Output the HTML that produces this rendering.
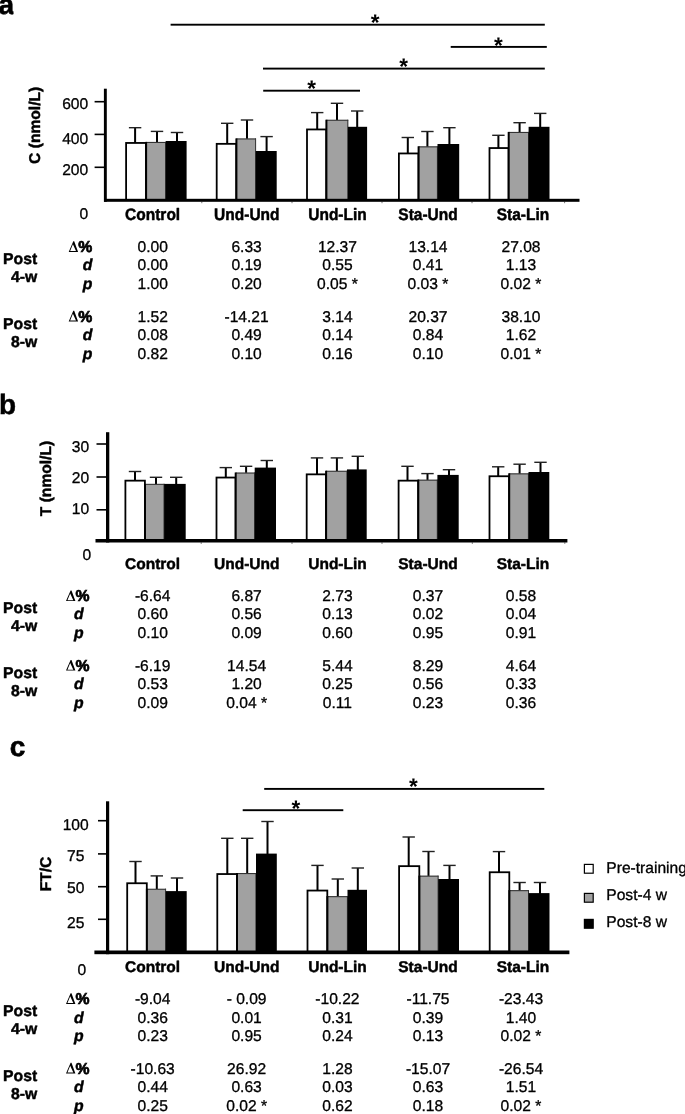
<!DOCTYPE html>
<html><head><meta charset="utf-8"><title>Figure</title>
<style>html,body{margin:0;padding:0;background:#fff;}body{width:685px;height:1114px;overflow:hidden;font-family:"Liberation Sans",sans-serif;}svg{display:block;filter:grayscale(1);}</style></head>
<body>
<svg width="685" height="1114" viewBox="0 0 685 1114" font-family='"Liberation Sans", sans-serif' fill="#000" text-rendering="geometricPrecision">
<rect width="685" height="1114" fill="#fff"/>
<rect x="201.30" y="201.60" width="1" height="1.6" fill="#777"/>
<rect x="291.50" y="201.60" width="1" height="1.6" fill="#777"/>
<rect x="381.50" y="201.60" width="1" height="1.6" fill="#777"/>
<rect x="471.50" y="201.60" width="1" height="1.6" fill="#777"/>
<rect x="564.10" y="201.60" width="1" height="1.6" fill="#777"/>
<rect x="134.10" y="127.70" width="2" height="15.50" fill="#000"/>
<rect x="128.90" y="127.00" width="12.4" height="1.4" fill="#222"/>
<rect x="126.10" y="142.95" width="19.90" height="57.10" fill="#fff" stroke="#000" stroke-width="1.8"/>
<rect x="156.00" y="131.40" width="2" height="11.80" fill="#000"/>
<rect x="150.80" y="130.70" width="12.4" height="1.4" fill="#222"/>
<rect x="146.00" y="142.20" width="20.00" height="57.10" fill="#a1a1a1"/>
<rect x="146.00" y="141.90" width="20.00" height="1.1" fill="#333"/>
<rect x="145.10" y="141.90" width="2" height="57.40" fill="#000"/>
<rect x="165.10" y="141.90" width="1.0" height="57.40" fill="#333"/>
<rect x="176.00" y="132.50" width="2" height="9.50" fill="#000"/>
<rect x="170.80" y="131.80" width="12.4" height="1.4" fill="#222"/>
<rect x="165.70" y="141.00" width="20.90" height="58.30" fill="#000"/>
<rect x="226.20" y="123.30" width="2" height="20.80" fill="#000"/>
<rect x="221.00" y="122.60" width="12.4" height="1.4" fill="#222"/>
<rect x="216.70" y="143.85" width="19.60" height="56.20" fill="#fff" stroke="#000" stroke-width="1.8"/>
<rect x="246.00" y="120.00" width="2" height="19.70" fill="#000"/>
<rect x="240.80" y="119.30" width="12.4" height="1.4" fill="#222"/>
<rect x="236.30" y="138.70" width="19.70" height="60.60" fill="#a1a1a1"/>
<rect x="236.30" y="138.40" width="19.70" height="1.1" fill="#333"/>
<rect x="235.40" y="138.40" width="2" height="60.90" fill="#000"/>
<rect x="255.10" y="138.40" width="1.0" height="60.90" fill="#333"/>
<rect x="265.60" y="136.60" width="2" height="15.40" fill="#000"/>
<rect x="260.40" y="135.90" width="12.4" height="1.4" fill="#222"/>
<rect x="255.70" y="151.00" width="21.00" height="48.30" fill="#000"/>
<rect x="316.20" y="112.60" width="2" height="17.10" fill="#000"/>
<rect x="311.00" y="111.90" width="12.4" height="1.4" fill="#222"/>
<rect x="307.00" y="129.45" width="19.30" height="70.60" fill="#fff" stroke="#000" stroke-width="1.8"/>
<rect x="336.00" y="103.30" width="2" height="17.70" fill="#000"/>
<rect x="330.80" y="102.60" width="12.4" height="1.4" fill="#222"/>
<rect x="326.30" y="120.00" width="21.90" height="79.30" fill="#a1a1a1"/>
<rect x="326.30" y="119.70" width="21.90" height="1.1" fill="#333"/>
<rect x="325.40" y="119.70" width="2" height="79.60" fill="#000"/>
<rect x="347.30" y="119.70" width="1.0" height="79.60" fill="#333"/>
<rect x="356.20" y="111.00" width="2" height="16.80" fill="#000"/>
<rect x="351.00" y="110.30" width="12.4" height="1.4" fill="#222"/>
<rect x="347.90" y="126.80" width="19.20" height="72.50" fill="#000"/>
<rect x="406.80" y="137.50" width="2" height="16.20" fill="#000"/>
<rect x="401.60" y="136.80" width="12.4" height="1.4" fill="#222"/>
<rect x="398.90" y="153.45" width="19.60" height="46.60" fill="#fff" stroke="#000" stroke-width="1.8"/>
<rect x="426.40" y="131.50" width="2" height="16.10" fill="#000"/>
<rect x="421.20" y="130.80" width="12.4" height="1.4" fill="#222"/>
<rect x="418.50" y="146.60" width="19.30" height="52.70" fill="#a1a1a1"/>
<rect x="418.50" y="146.30" width="19.30" height="1.1" fill="#333"/>
<rect x="417.60" y="146.30" width="2" height="53.00" fill="#000"/>
<rect x="436.90" y="146.30" width="1.0" height="53.00" fill="#333"/>
<rect x="448.40" y="127.70" width="2" height="17.30" fill="#000"/>
<rect x="443.20" y="127.00" width="12.4" height="1.4" fill="#222"/>
<rect x="437.50" y="144.00" width="21.70" height="55.30" fill="#000"/>
<rect x="497.40" y="135.30" width="2" height="13.00" fill="#000"/>
<rect x="492.20" y="134.60" width="12.4" height="1.4" fill="#222"/>
<rect x="489.50" y="148.05" width="19.10" height="52.00" fill="#fff" stroke="#000" stroke-width="1.8"/>
<rect x="518.60" y="122.70" width="2" height="10.50" fill="#000"/>
<rect x="513.40" y="122.00" width="12.4" height="1.4" fill="#222"/>
<rect x="508.60" y="132.20" width="20.30" height="67.10" fill="#a1a1a1"/>
<rect x="508.60" y="131.90" width="20.30" height="1.1" fill="#333"/>
<rect x="507.70" y="131.90" width="2" height="67.40" fill="#000"/>
<rect x="528.00" y="131.90" width="1.0" height="67.40" fill="#333"/>
<rect x="539.20" y="113.40" width="2" height="14.40" fill="#000"/>
<rect x="534.00" y="112.70" width="12.4" height="1.4" fill="#222"/>
<rect x="528.60" y="126.80" width="20.90" height="72.50" fill="#000"/>
<rect x="103.90" y="88.70" width="2.9" height="113.10" fill="#000"/>
<rect x="104.00" y="198.80" width="475.50" height="3" fill="#000"/>
<rect x="94.60" y="100.90" width="9.80" height="1.6" fill="#000"/>
<text x="88.20" y="109.30" font-size="15.6" font-weight="normal" font-style="normal" text-anchor="end"  stroke="#000" stroke-width="0.32" stroke-linejoin="round">600</text>
<rect x="94.60" y="133.60" width="9.80" height="1.6" fill="#000"/>
<text x="88.20" y="143.80" font-size="15.6" font-weight="normal" font-style="normal" text-anchor="end"  stroke="#000" stroke-width="0.32" stroke-linejoin="round">400</text>
<rect x="94.60" y="166.50" width="9.80" height="1.6" fill="#000"/>
<text x="88.20" y="174.90" font-size="15.6" font-weight="normal" font-style="normal" text-anchor="end"  stroke="#000" stroke-width="0.32" stroke-linejoin="round">200</text>
<text x="88.20" y="218.80" font-size="15.6" font-weight="normal" font-style="normal" text-anchor="end"  stroke="#000" stroke-width="0.32" stroke-linejoin="round">0</text>
<text transform="translate(39.60,163.90) rotate(-90)" font-size="15.6" font-weight="bold" stroke="#000" stroke-width="0.45" stroke-linejoin="round">C (nmol/L)</text>
<text transform="translate(152.60,219.60) scale(1,1.07)" font-size="15.5" font-weight="bold" text-anchor="middle" stroke="#000" stroke-width="0.45" stroke-linejoin="round">Control</text>
<text transform="translate(246.80,219.60) scale(1,1.07)" font-size="15.5" font-weight="bold" text-anchor="middle" stroke="#000" stroke-width="0.45" stroke-linejoin="round">Und-Und</text>
<text transform="translate(337.50,219.60) scale(1,1.07)" font-size="15.5" font-weight="bold" text-anchor="middle" stroke="#000" stroke-width="0.45" stroke-linejoin="round">Und-Lin</text>
<text transform="translate(428.00,219.60) scale(1,1.07)" font-size="15.5" font-weight="bold" text-anchor="middle" stroke="#000" stroke-width="0.45" stroke-linejoin="round">Sta-Und</text>
<text transform="translate(523.00,219.60) scale(1,1.07)" font-size="15.5" font-weight="bold" text-anchor="middle" stroke="#000" stroke-width="0.45" stroke-linejoin="round">Sta-Lin</text>
<rect x="200.70" y="542.30" width="1" height="1.6" fill="#777"/>
<rect x="291.50" y="542.30" width="1" height="1.6" fill="#777"/>
<rect x="381.50" y="542.30" width="1" height="1.6" fill="#777"/>
<rect x="471.80" y="542.30" width="1" height="1.6" fill="#777"/>
<rect x="564.30" y="542.30" width="1" height="1.6" fill="#777"/>
<rect x="134.00" y="471.50" width="2" height="9.40" fill="#000"/>
<rect x="128.80" y="470.80" width="12.4" height="1.4" fill="#222"/>
<rect x="125.40" y="480.65" width="19.50" height="59.60" fill="#fff" stroke="#000" stroke-width="1.8"/>
<rect x="155.00" y="477.30" width="2" height="7.80" fill="#000"/>
<rect x="149.80" y="476.60" width="12.4" height="1.4" fill="#222"/>
<rect x="144.90" y="484.10" width="19.50" height="55.40" fill="#a1a1a1"/>
<rect x="144.90" y="483.80" width="19.50" height="1.1" fill="#333"/>
<rect x="144.00" y="483.80" width="2" height="55.70" fill="#000"/>
<rect x="163.50" y="483.80" width="1.0" height="55.70" fill="#333"/>
<rect x="175.20" y="477.30" width="2" height="7.60" fill="#000"/>
<rect x="170.00" y="476.60" width="12.4" height="1.4" fill="#222"/>
<rect x="164.10" y="483.90" width="21.60" height="55.60" fill="#000"/>
<rect x="224.80" y="467.60" width="2" height="10.20" fill="#000"/>
<rect x="219.60" y="466.90" width="12.4" height="1.4" fill="#222"/>
<rect x="216.50" y="477.55" width="19.10" height="62.70" fill="#fff" stroke="#000" stroke-width="1.8"/>
<rect x="245.10" y="466.30" width="2" height="7.50" fill="#000"/>
<rect x="239.90" y="465.60" width="12.4" height="1.4" fill="#222"/>
<rect x="235.60" y="472.80" width="19.40" height="66.70" fill="#a1a1a1"/>
<rect x="235.60" y="472.50" width="19.40" height="1.1" fill="#333"/>
<rect x="234.70" y="472.50" width="2" height="67.00" fill="#000"/>
<rect x="254.10" y="472.50" width="1.0" height="67.00" fill="#333"/>
<rect x="265.80" y="460.50" width="2" height="8.10" fill="#000"/>
<rect x="260.60" y="459.80" width="12.4" height="1.4" fill="#222"/>
<rect x="254.70" y="467.60" width="21.30" height="71.90" fill="#000"/>
<rect x="316.00" y="457.90" width="2" height="16.70" fill="#000"/>
<rect x="310.80" y="457.20" width="12.4" height="1.4" fill="#222"/>
<rect x="306.70" y="474.35" width="19.30" height="65.90" fill="#fff" stroke="#000" stroke-width="1.8"/>
<rect x="335.90" y="457.90" width="2" height="14.10" fill="#000"/>
<rect x="330.70" y="457.20" width="12.4" height="1.4" fill="#222"/>
<rect x="326.00" y="471.00" width="21.30" height="68.50" fill="#a1a1a1"/>
<rect x="326.00" y="470.70" width="21.30" height="1.1" fill="#333"/>
<rect x="325.10" y="470.70" width="2" height="68.80" fill="#000"/>
<rect x="346.40" y="470.70" width="1.0" height="68.80" fill="#333"/>
<rect x="356.80" y="456.30" width="2" height="14.10" fill="#000"/>
<rect x="351.60" y="455.60" width="12.4" height="1.4" fill="#222"/>
<rect x="347.00" y="469.40" width="19.70" height="70.10" fill="#000"/>
<rect x="406.50" y="466.30" width="2" height="14.60" fill="#000"/>
<rect x="401.30" y="465.60" width="12.4" height="1.4" fill="#222"/>
<rect x="398.60" y="480.65" width="19.60" height="59.60" fill="#fff" stroke="#000" stroke-width="1.8"/>
<rect x="426.50" y="473.60" width="2" height="7.30" fill="#000"/>
<rect x="421.30" y="472.90" width="12.4" height="1.4" fill="#222"/>
<rect x="418.20" y="479.90" width="19.50" height="59.60" fill="#a1a1a1"/>
<rect x="418.20" y="479.60" width="19.50" height="1.1" fill="#333"/>
<rect x="417.30" y="479.60" width="2" height="59.90" fill="#000"/>
<rect x="436.80" y="479.60" width="1.0" height="59.90" fill="#333"/>
<rect x="448.00" y="469.70" width="2" height="6.20" fill="#000"/>
<rect x="442.80" y="469.00" width="12.4" height="1.4" fill="#222"/>
<rect x="437.40" y="474.90" width="21.30" height="64.60" fill="#000"/>
<rect x="497.20" y="466.80" width="2" height="9.70" fill="#000"/>
<rect x="492.00" y="466.10" width="12.4" height="1.4" fill="#222"/>
<rect x="489.50" y="476.25" width="19.60" height="64.00" fill="#fff" stroke="#000" stroke-width="1.8"/>
<rect x="518.60" y="464.20" width="2" height="10.40" fill="#000"/>
<rect x="513.40" y="463.50" width="12.4" height="1.4" fill="#222"/>
<rect x="509.10" y="473.60" width="19.70" height="65.90" fill="#a1a1a1"/>
<rect x="509.10" y="473.30" width="19.70" height="1.1" fill="#333"/>
<rect x="508.20" y="473.30" width="2" height="66.20" fill="#000"/>
<rect x="527.90" y="473.30" width="1.0" height="66.20" fill="#333"/>
<rect x="539.50" y="462.30" width="2" height="10.70" fill="#000"/>
<rect x="534.30" y="461.60" width="12.4" height="1.4" fill="#222"/>
<rect x="528.50" y="472.00" width="20.80" height="67.50" fill="#000"/>
<rect x="106.00" y="432.20" width="3.3" height="110.30" fill="#000"/>
<rect x="95.50" y="539.00" width="471.90" height="3.5" fill="#000"/>
<rect x="96.50" y="443.20" width="10.00" height="1.6" fill="#000"/>
<text x="89.20" y="451.90" font-size="15.6" font-weight="normal" font-style="normal" text-anchor="end"  stroke="#000" stroke-width="0.32" stroke-linejoin="round">30</text>
<rect x="96.50" y="476.20" width="10.00" height="1.6" fill="#000"/>
<text x="89.20" y="482.90" font-size="15.6" font-weight="normal" font-style="normal" text-anchor="end"  stroke="#000" stroke-width="0.32" stroke-linejoin="round">20</text>
<rect x="96.50" y="509.00" width="10.00" height="1.6" fill="#000"/>
<text x="89.20" y="513.50" font-size="15.6" font-weight="normal" font-style="normal" text-anchor="end"  stroke="#000" stroke-width="0.32" stroke-linejoin="round">10</text>
<text x="91.20" y="560.20" font-size="15.6" font-weight="normal" font-style="normal" text-anchor="end"  stroke="#000" stroke-width="0.32" stroke-linejoin="round">0</text>
<text transform="translate(50.50,516.20) rotate(-90)" font-size="15.6" font-weight="bold" stroke="#000" stroke-width="0.45" stroke-linejoin="round">T (nmol/L)</text>
<text x="152.60" y="568.70" font-size="15.5" font-weight="bold" font-style="normal" text-anchor="middle"  stroke="#000" stroke-width="0.45" stroke-linejoin="round">Control</text>
<text x="246.80" y="568.70" font-size="15.5" font-weight="bold" font-style="normal" text-anchor="middle"  stroke="#000" stroke-width="0.45" stroke-linejoin="round">Und-Und</text>
<text x="337.50" y="568.70" font-size="15.5" font-weight="bold" font-style="normal" text-anchor="middle"  stroke="#000" stroke-width="0.45" stroke-linejoin="round">Und-Lin</text>
<text x="428.00" y="568.70" font-size="15.5" font-weight="bold" font-style="normal" text-anchor="middle"  stroke="#000" stroke-width="0.45" stroke-linejoin="round">Sta-Und</text>
<text x="523.00" y="568.70" font-size="15.5" font-weight="bold" font-style="normal" text-anchor="middle"  stroke="#000" stroke-width="0.45" stroke-linejoin="round">Sta-Lin</text>
<rect x="134.50" y="861.50" width="2" height="22.00" fill="#000"/>
<rect x="129.30" y="860.80" width="12.4" height="1.4" fill="#222"/>
<rect x="127.20" y="883.25" width="19.60" height="68.50" fill="#fff" stroke="#000" stroke-width="1.8"/>
<rect x="155.80" y="875.90" width="2" height="14.10" fill="#000"/>
<rect x="150.60" y="875.20" width="12.4" height="1.4" fill="#222"/>
<rect x="146.80" y="889.00" width="19.20" height="62.00" fill="#a1a1a1"/>
<rect x="146.80" y="888.70" width="19.20" height="1.1" fill="#333"/>
<rect x="145.90" y="888.70" width="2" height="62.30" fill="#000"/>
<rect x="165.10" y="888.70" width="1.0" height="62.30" fill="#333"/>
<rect x="176.00" y="878.00" width="2" height="14.10" fill="#000"/>
<rect x="170.80" y="877.30" width="12.4" height="1.4" fill="#222"/>
<rect x="165.70" y="891.10" width="21.00" height="59.90" fill="#000"/>
<rect x="226.30" y="838.30" width="2" height="36.00" fill="#000"/>
<rect x="221.10" y="837.60" width="12.4" height="1.4" fill="#222"/>
<rect x="217.30" y="874.05" width="19.60" height="77.70" fill="#fff" stroke="#000" stroke-width="1.8"/>
<rect x="246.20" y="838.30" width="2" height="36.00" fill="#000"/>
<rect x="241.00" y="837.60" width="12.4" height="1.4" fill="#222"/>
<rect x="236.90" y="873.30" width="19.40" height="77.70" fill="#a1a1a1"/>
<rect x="236.90" y="873.00" width="19.40" height="1.1" fill="#333"/>
<rect x="236.00" y="873.00" width="2" height="78.00" fill="#000"/>
<rect x="255.40" y="873.00" width="1.0" height="78.00" fill="#333"/>
<rect x="266.50" y="821.50" width="2" height="33.10" fill="#000"/>
<rect x="261.30" y="820.80" width="12.4" height="1.4" fill="#222"/>
<rect x="256.00" y="853.60" width="20.80" height="97.40" fill="#000"/>
<rect x="316.50" y="865.40" width="2" height="25.40" fill="#000"/>
<rect x="311.30" y="864.70" width="12.4" height="1.4" fill="#222"/>
<rect x="307.50" y="890.55" width="19.80" height="61.20" fill="#fff" stroke="#000" stroke-width="1.8"/>
<rect x="336.80" y="879.00" width="2" height="18.40" fill="#000"/>
<rect x="331.60" y="878.30" width="12.4" height="1.4" fill="#222"/>
<rect x="327.30" y="896.40" width="20.50" height="54.60" fill="#a1a1a1"/>
<rect x="327.30" y="896.10" width="20.50" height="1.1" fill="#333"/>
<rect x="326.40" y="896.10" width="2" height="54.90" fill="#000"/>
<rect x="346.90" y="896.10" width="1.0" height="54.90" fill="#333"/>
<rect x="356.80" y="868.00" width="2" height="22.80" fill="#000"/>
<rect x="351.60" y="867.30" width="12.4" height="1.4" fill="#222"/>
<rect x="347.50" y="889.80" width="19.50" height="61.20" fill="#000"/>
<rect x="407.70" y="837.00" width="2" height="29.40" fill="#000"/>
<rect x="402.50" y="836.30" width="12.4" height="1.4" fill="#222"/>
<rect x="399.10" y="866.15" width="20.20" height="85.60" fill="#fff" stroke="#000" stroke-width="1.8"/>
<rect x="427.50" y="851.50" width="2" height="25.40" fill="#000"/>
<rect x="422.30" y="850.80" width="12.4" height="1.4" fill="#222"/>
<rect x="419.30" y="875.90" width="19.20" height="75.10" fill="#a1a1a1"/>
<rect x="419.30" y="875.60" width="19.20" height="1.1" fill="#333"/>
<rect x="418.40" y="875.60" width="2" height="75.40" fill="#000"/>
<rect x="437.60" y="875.60" width="1.0" height="75.40" fill="#333"/>
<rect x="448.50" y="865.40" width="2" height="14.60" fill="#000"/>
<rect x="443.30" y="864.70" width="12.4" height="1.4" fill="#222"/>
<rect x="438.20" y="879.00" width="20.80" height="72.00" fill="#000"/>
<rect x="498.00" y="851.60" width="2" height="20.90" fill="#000"/>
<rect x="492.80" y="850.90" width="12.4" height="1.4" fill="#222"/>
<rect x="489.70" y="872.25" width="19.60" height="79.50" fill="#fff" stroke="#000" stroke-width="1.8"/>
<rect x="518.60" y="882.50" width="2" height="8.90" fill="#000"/>
<rect x="513.40" y="881.80" width="12.4" height="1.4" fill="#222"/>
<rect x="509.30" y="890.40" width="19.60" height="60.60" fill="#a1a1a1"/>
<rect x="509.30" y="890.10" width="19.60" height="1.1" fill="#333"/>
<rect x="508.40" y="890.10" width="2" height="60.90" fill="#000"/>
<rect x="528.00" y="890.10" width="1.0" height="60.90" fill="#333"/>
<rect x="539.00" y="882.50" width="2" height="11.60" fill="#000"/>
<rect x="533.80" y="881.80" width="12.4" height="1.4" fill="#222"/>
<rect x="528.60" y="893.10" width="20.90" height="57.90" fill="#000"/>
<rect x="106.00" y="801.30" width="3.2" height="152.90" fill="#000"/>
<rect x="94.40" y="950.50" width="475.00" height="3.7" fill="#000"/>
<rect x="98.00" y="819.90" width="8.50" height="1.6" fill="#000"/>
<text x="75.70" y="829.50" font-size="15.6" font-weight="normal" font-style="normal" text-anchor="middle"  stroke="#000" stroke-width="0.32" stroke-linejoin="round">100</text>
<rect x="98.00" y="853.10" width="8.50" height="1.6" fill="#000"/>
<text x="75.70" y="860.60" font-size="15.6" font-weight="normal" font-style="normal" text-anchor="middle"  stroke="#000" stroke-width="0.32" stroke-linejoin="round">75</text>
<rect x="98.00" y="885.90" width="8.50" height="1.6" fill="#000"/>
<text x="75.70" y="893.30" font-size="15.6" font-weight="normal" font-style="normal" text-anchor="middle"  stroke="#000" stroke-width="0.32" stroke-linejoin="round">50</text>
<rect x="98.00" y="918.50" width="8.50" height="1.6" fill="#000"/>
<text x="75.70" y="928.20" font-size="15.6" font-weight="normal" font-style="normal" text-anchor="middle"  stroke="#000" stroke-width="0.32" stroke-linejoin="round">25</text>
<text x="86.10" y="974.90" font-size="15.6" font-weight="normal" font-style="normal" text-anchor="end"  stroke="#000" stroke-width="0.32" stroke-linejoin="round">0</text>
<text transform="translate(51.00,891.30) rotate(-90)" font-size="15.6" font-weight="bold" stroke="#000" stroke-width="0.45" stroke-linejoin="round">FT/C</text>
<text x="152.60" y="971.80" font-size="15.5" font-weight="bold" font-style="normal" text-anchor="middle"  stroke="#000" stroke-width="0.45" stroke-linejoin="round">Control</text>
<text x="246.80" y="971.80" font-size="15.5" font-weight="bold" font-style="normal" text-anchor="middle"  stroke="#000" stroke-width="0.45" stroke-linejoin="round">Und-Und</text>
<text x="337.50" y="971.80" font-size="15.5" font-weight="bold" font-style="normal" text-anchor="middle"  stroke="#000" stroke-width="0.45" stroke-linejoin="round">Und-Lin</text>
<text x="428.00" y="971.80" font-size="15.5" font-weight="bold" font-style="normal" text-anchor="middle"  stroke="#000" stroke-width="0.45" stroke-linejoin="round">Sta-Und</text>
<text x="523.00" y="971.80" font-size="15.5" font-weight="bold" font-style="normal" text-anchor="middle"  stroke="#000" stroke-width="0.45" stroke-linejoin="round">Sta-Lin</text>
<rect x="170.60" y="23.75" width="374.20" height="1.9" fill="#000"/>
<text x="375.10" y="30.10" font-size="22.5" font-weight="bold" text-anchor="middle">*</text>
<rect x="450.70" y="45.95" width="96.10" height="1.9" fill="#000"/>
<text x="498.50" y="52.70" font-size="22.5" font-weight="bold" text-anchor="middle">*</text>
<rect x="263.00" y="67.65" width="281.80" height="1.9" fill="#000"/>
<text x="403.60" y="73.80" font-size="22.5" font-weight="bold" text-anchor="middle">*</text>
<rect x="263.20" y="89.75" width="96.80" height="1.9" fill="#000"/>
<text x="311.70" y="95.90" font-size="22.5" font-weight="bold" text-anchor="middle">*</text>
<rect x="264.20" y="787.95" width="280.10" height="1.9" fill="#000"/>
<text x="413.50" y="794.30" font-size="22.5" font-weight="bold" text-anchor="middle">*</text>
<rect x="242.70" y="809.25" width="100.60" height="1.9" fill="#000"/>
<text x="295.80" y="815.60" font-size="22.5" font-weight="bold" text-anchor="middle">*</text>
<clipPath id="ca"><rect x="0" y="0" width="13.5" height="20"/></clipPath>
<text x="-1.50" y="14.00" font-size="28" font-weight="bold" font-style="normal" text-anchor="start" stroke="#000" stroke-width="0.6" clip-path="url(#ca)">a</text>
<text x="-1.10" y="413.70" font-size="28" font-weight="bold" font-style="normal" text-anchor="start" stroke="#000" stroke-width="0.45">b</text>
<text x="9.80" y="756.00" font-size="28" font-weight="bold" font-style="normal" text-anchor="start" stroke="#000" stroke-width="0.6">c</text>
<rect x="584.40" y="864.40" width="8.8" height="8.8" fill="#fff" stroke="#000" stroke-width="1.2"/>
<text x="606.30" y="872.70" font-size="15.6" font-weight="normal" font-style="normal" text-anchor="start"  stroke="#000" stroke-width="0.32" stroke-linejoin="round">Pre-training</text>
<rect x="584.40" y="893.40" width="8.8" height="8.8" fill="#a1a1a1" stroke="#000" stroke-width="1.2"/>
<text x="606.30" y="899.90" font-size="15.6" font-weight="normal" font-style="normal" text-anchor="start"  stroke="#000" stroke-width="0.32" stroke-linejoin="round">Post-4 w</text>
<rect x="584.40" y="919.40" width="8.8" height="8.8" fill="#000" stroke="#000" stroke-width="1.2"/>
<text x="606.30" y="927.20" font-size="15.6" font-weight="normal" font-style="normal" text-anchor="start"  stroke="#000" stroke-width="0.32" stroke-linejoin="round">Post-8 w</text>
<text x="152.70" y="252.20" font-size="15.6" font-weight="normal" font-style="normal" text-anchor="middle"  stroke="#000" stroke-width="0.32" stroke-linejoin="round">0.00</text>
<text x="246.60" y="252.20" font-size="15.6" font-weight="normal" font-style="normal" text-anchor="middle"  stroke="#000" stroke-width="0.32" stroke-linejoin="round">6.33</text>
<text x="337.40" y="252.20" font-size="15.6" font-weight="normal" font-style="normal" text-anchor="middle"  stroke="#000" stroke-width="0.32" stroke-linejoin="round">12.37</text>
<text x="428.00" y="252.20" font-size="15.6" font-weight="normal" font-style="normal" text-anchor="middle"  stroke="#000" stroke-width="0.32" stroke-linejoin="round">13.14</text>
<text x="521.00" y="252.20" font-size="15.6" font-weight="normal" font-style="normal" text-anchor="middle"  stroke="#000" stroke-width="0.32" stroke-linejoin="round">27.08</text>
<text x="92.30" y="252.20" font-size="15.75" font-weight="bold" font-style="normal" text-anchor="end" stroke="#000" stroke-width="0.7">%</text>
<path fill-rule="evenodd" d="M68.70 251.90 L73.30 241.20 L74.20 241.20 L78.10 251.90 Z M70.15 250.95 L76.00 250.95 L72.90 244.20 Z" fill="#000"/>
<text x="152.70" y="270.20" font-size="15.6" font-weight="normal" font-style="normal" text-anchor="middle"  stroke="#000" stroke-width="0.32" stroke-linejoin="round">0.00</text>
<text x="246.60" y="270.20" font-size="15.6" font-weight="normal" font-style="normal" text-anchor="middle"  stroke="#000" stroke-width="0.32" stroke-linejoin="round">0.19</text>
<text x="337.40" y="270.20" font-size="15.6" font-weight="normal" font-style="normal" text-anchor="middle"  stroke="#000" stroke-width="0.32" stroke-linejoin="round">0.55</text>
<text x="428.00" y="270.20" font-size="15.6" font-weight="normal" font-style="normal" text-anchor="middle"  stroke="#000" stroke-width="0.32" stroke-linejoin="round">0.41</text>
<text x="521.00" y="270.20" font-size="15.6" font-weight="normal" font-style="normal" text-anchor="middle"  stroke="#000" stroke-width="0.32" stroke-linejoin="round">1.13</text>
<text x="92.30" y="270.20" font-size="15.75" font-weight="bold" font-style="italic" text-anchor="end"  stroke="#000" stroke-width="0.45" stroke-linejoin="round">d</text>
<text x="152.70" y="288.90" font-size="15.6" font-weight="normal" font-style="normal" text-anchor="middle"  stroke="#000" stroke-width="0.32" stroke-linejoin="round">1.00</text>
<text x="246.60" y="288.90" font-size="15.6" font-weight="normal" font-style="normal" text-anchor="middle"  stroke="#000" stroke-width="0.32" stroke-linejoin="round">0.20</text>
<text x="337.40" y="288.90" font-size="15.6" font-weight="normal" font-style="normal" text-anchor="middle"  stroke="#000" stroke-width="0.32" stroke-linejoin="round">0.05 *</text>
<text x="428.00" y="288.90" font-size="15.6" font-weight="normal" font-style="normal" text-anchor="middle"  stroke="#000" stroke-width="0.32" stroke-linejoin="round">0.03 *</text>
<text x="521.00" y="288.90" font-size="15.6" font-weight="normal" font-style="normal" text-anchor="middle"  stroke="#000" stroke-width="0.32" stroke-linejoin="round">0.02 *</text>
<text x="92.30" y="288.90" font-size="15.75" font-weight="bold" font-style="italic" text-anchor="end"  stroke="#000" stroke-width="0.45" stroke-linejoin="round">p</text>
<text x="152.70" y="321.70" font-size="15.6" font-weight="normal" font-style="normal" text-anchor="middle"  stroke="#000" stroke-width="0.32" stroke-linejoin="round">1.52</text>
<text x="246.60" y="321.70" font-size="15.6" font-weight="normal" font-style="normal" text-anchor="middle"  stroke="#000" stroke-width="0.32" stroke-linejoin="round">-14.21</text>
<text x="337.40" y="321.70" font-size="15.6" font-weight="normal" font-style="normal" text-anchor="middle"  stroke="#000" stroke-width="0.32" stroke-linejoin="round">3.14</text>
<text x="428.00" y="321.70" font-size="15.6" font-weight="normal" font-style="normal" text-anchor="middle"  stroke="#000" stroke-width="0.32" stroke-linejoin="round">20.37</text>
<text x="521.00" y="321.70" font-size="15.6" font-weight="normal" font-style="normal" text-anchor="middle"  stroke="#000" stroke-width="0.32" stroke-linejoin="round">38.10</text>
<text x="92.30" y="321.70" font-size="15.75" font-weight="bold" font-style="normal" text-anchor="end" stroke="#000" stroke-width="0.7">%</text>
<path fill-rule="evenodd" d="M68.70 321.40 L73.30 310.70 L74.20 310.70 L78.10 321.40 Z M70.15 320.45 L76.00 320.45 L72.90 313.70 Z" fill="#000"/>
<text x="152.70" y="340.00" font-size="15.6" font-weight="normal" font-style="normal" text-anchor="middle"  stroke="#000" stroke-width="0.32" stroke-linejoin="round">0.08</text>
<text x="246.60" y="340.00" font-size="15.6" font-weight="normal" font-style="normal" text-anchor="middle"  stroke="#000" stroke-width="0.32" stroke-linejoin="round">0.49</text>
<text x="337.40" y="340.00" font-size="15.6" font-weight="normal" font-style="normal" text-anchor="middle"  stroke="#000" stroke-width="0.32" stroke-linejoin="round">0.14</text>
<text x="428.00" y="340.00" font-size="15.6" font-weight="normal" font-style="normal" text-anchor="middle"  stroke="#000" stroke-width="0.32" stroke-linejoin="round">0.84</text>
<text x="521.00" y="340.00" font-size="15.6" font-weight="normal" font-style="normal" text-anchor="middle"  stroke="#000" stroke-width="0.32" stroke-linejoin="round">1.62</text>
<text x="92.30" y="340.00" font-size="15.75" font-weight="bold" font-style="italic" text-anchor="end"  stroke="#000" stroke-width="0.45" stroke-linejoin="round">d</text>
<text x="152.70" y="358.50" font-size="15.6" font-weight="normal" font-style="normal" text-anchor="middle"  stroke="#000" stroke-width="0.32" stroke-linejoin="round">0.82</text>
<text x="246.60" y="358.50" font-size="15.6" font-weight="normal" font-style="normal" text-anchor="middle"  stroke="#000" stroke-width="0.32" stroke-linejoin="round">0.10</text>
<text x="337.40" y="358.50" font-size="15.6" font-weight="normal" font-style="normal" text-anchor="middle"  stroke="#000" stroke-width="0.32" stroke-linejoin="round">0.16</text>
<text x="428.00" y="358.50" font-size="15.6" font-weight="normal" font-style="normal" text-anchor="middle"  stroke="#000" stroke-width="0.32" stroke-linejoin="round">0.10</text>
<text x="521.00" y="358.50" font-size="15.6" font-weight="normal" font-style="normal" text-anchor="middle"  stroke="#000" stroke-width="0.32" stroke-linejoin="round">0.01 *</text>
<text x="92.30" y="358.50" font-size="15.75" font-weight="bold" font-style="italic" text-anchor="end"  stroke="#000" stroke-width="0.45" stroke-linejoin="round">p</text>
<text x="37.20" y="263.60" font-size="15.75" font-weight="bold" font-style="normal" text-anchor="end"  stroke="#000" stroke-width="0.45" stroke-linejoin="round">Post</text>
<text x="37.20" y="282.00" font-size="15.75" font-weight="bold" font-style="normal" text-anchor="end"  stroke="#000" stroke-width="0.45" stroke-linejoin="round">4-w</text>
<text x="37.20" y="328.60" font-size="15.75" font-weight="bold" font-style="normal" text-anchor="end"  stroke="#000" stroke-width="0.45" stroke-linejoin="round">Post</text>
<text x="37.20" y="347.10" font-size="15.75" font-weight="bold" font-style="normal" text-anchor="end"  stroke="#000" stroke-width="0.45" stroke-linejoin="round">8-w</text>
<text x="152.70" y="601.40" font-size="15.6" font-weight="normal" font-style="normal" text-anchor="middle"  stroke="#000" stroke-width="0.32" stroke-linejoin="round">-6.64</text>
<text x="246.60" y="601.40" font-size="15.6" font-weight="normal" font-style="normal" text-anchor="middle"  stroke="#000" stroke-width="0.32" stroke-linejoin="round">6.87</text>
<text x="337.40" y="601.40" font-size="15.6" font-weight="normal" font-style="normal" text-anchor="middle"  stroke="#000" stroke-width="0.32" stroke-linejoin="round">2.73</text>
<text x="428.00" y="601.40" font-size="15.6" font-weight="normal" font-style="normal" text-anchor="middle"  stroke="#000" stroke-width="0.32" stroke-linejoin="round">0.37</text>
<text x="521.00" y="601.40" font-size="15.6" font-weight="normal" font-style="normal" text-anchor="middle"  stroke="#000" stroke-width="0.32" stroke-linejoin="round">0.58</text>
<text x="89.60" y="601.40" font-size="15.75" font-weight="bold" font-style="normal" text-anchor="end" stroke="#000" stroke-width="0.7">%</text>
<path fill-rule="evenodd" d="M66.00 601.10 L70.60 590.40 L71.50 590.40 L75.40 601.10 Z M67.45 600.15 L73.30 600.15 L70.20 593.40 Z" fill="#000"/>
<text x="152.70" y="619.40" font-size="15.6" font-weight="normal" font-style="normal" text-anchor="middle"  stroke="#000" stroke-width="0.32" stroke-linejoin="round">0.60</text>
<text x="246.60" y="619.40" font-size="15.6" font-weight="normal" font-style="normal" text-anchor="middle"  stroke="#000" stroke-width="0.32" stroke-linejoin="round">0.56</text>
<text x="337.40" y="619.40" font-size="15.6" font-weight="normal" font-style="normal" text-anchor="middle"  stroke="#000" stroke-width="0.32" stroke-linejoin="round">0.13</text>
<text x="428.00" y="619.40" font-size="15.6" font-weight="normal" font-style="normal" text-anchor="middle"  stroke="#000" stroke-width="0.32" stroke-linejoin="round">0.02</text>
<text x="521.00" y="619.40" font-size="15.6" font-weight="normal" font-style="normal" text-anchor="middle"  stroke="#000" stroke-width="0.32" stroke-linejoin="round">0.04</text>
<text x="78.80" y="619.40" font-size="15.75" font-weight="bold" font-style="italic" text-anchor="middle"  stroke="#000" stroke-width="0.45" stroke-linejoin="round">d</text>
<text x="152.70" y="638.10" font-size="15.6" font-weight="normal" font-style="normal" text-anchor="middle"  stroke="#000" stroke-width="0.32" stroke-linejoin="round">0.10</text>
<text x="246.60" y="638.10" font-size="15.6" font-weight="normal" font-style="normal" text-anchor="middle"  stroke="#000" stroke-width="0.32" stroke-linejoin="round">0.09</text>
<text x="337.40" y="638.10" font-size="15.6" font-weight="normal" font-style="normal" text-anchor="middle"  stroke="#000" stroke-width="0.32" stroke-linejoin="round">0.60</text>
<text x="428.00" y="638.10" font-size="15.6" font-weight="normal" font-style="normal" text-anchor="middle"  stroke="#000" stroke-width="0.32" stroke-linejoin="round">0.95</text>
<text x="521.00" y="638.10" font-size="15.6" font-weight="normal" font-style="normal" text-anchor="middle"  stroke="#000" stroke-width="0.32" stroke-linejoin="round">0.91</text>
<text x="78.80" y="638.10" font-size="15.75" font-weight="bold" font-style="italic" text-anchor="middle"  stroke="#000" stroke-width="0.45" stroke-linejoin="round">p</text>
<text x="152.70" y="670.90" font-size="15.6" font-weight="normal" font-style="normal" text-anchor="middle"  stroke="#000" stroke-width="0.32" stroke-linejoin="round">-6.19</text>
<text x="246.60" y="670.90" font-size="15.6" font-weight="normal" font-style="normal" text-anchor="middle"  stroke="#000" stroke-width="0.32" stroke-linejoin="round">14.54</text>
<text x="337.40" y="670.90" font-size="15.6" font-weight="normal" font-style="normal" text-anchor="middle"  stroke="#000" stroke-width="0.32" stroke-linejoin="round">5.44</text>
<text x="428.00" y="670.90" font-size="15.6" font-weight="normal" font-style="normal" text-anchor="middle"  stroke="#000" stroke-width="0.32" stroke-linejoin="round">8.29</text>
<text x="521.00" y="670.90" font-size="15.6" font-weight="normal" font-style="normal" text-anchor="middle"  stroke="#000" stroke-width="0.32" stroke-linejoin="round">4.64</text>
<text x="89.60" y="670.90" font-size="15.75" font-weight="bold" font-style="normal" text-anchor="end" stroke="#000" stroke-width="0.7">%</text>
<path fill-rule="evenodd" d="M66.00 670.60 L70.60 659.90 L71.50 659.90 L75.40 670.60 Z M67.45 669.65 L73.30 669.65 L70.20 662.90 Z" fill="#000"/>
<text x="152.70" y="689.20" font-size="15.6" font-weight="normal" font-style="normal" text-anchor="middle"  stroke="#000" stroke-width="0.32" stroke-linejoin="round">0.53</text>
<text x="246.60" y="689.20" font-size="15.6" font-weight="normal" font-style="normal" text-anchor="middle"  stroke="#000" stroke-width="0.32" stroke-linejoin="round">1.20</text>
<text x="337.40" y="689.20" font-size="15.6" font-weight="normal" font-style="normal" text-anchor="middle"  stroke="#000" stroke-width="0.32" stroke-linejoin="round">0.25</text>
<text x="428.00" y="689.20" font-size="15.6" font-weight="normal" font-style="normal" text-anchor="middle"  stroke="#000" stroke-width="0.32" stroke-linejoin="round">0.56</text>
<text x="521.00" y="689.20" font-size="15.6" font-weight="normal" font-style="normal" text-anchor="middle"  stroke="#000" stroke-width="0.32" stroke-linejoin="round">0.33</text>
<text x="78.80" y="689.20" font-size="15.75" font-weight="bold" font-style="italic" text-anchor="middle"  stroke="#000" stroke-width="0.45" stroke-linejoin="round">d</text>
<text x="152.70" y="707.70" font-size="15.6" font-weight="normal" font-style="normal" text-anchor="middle"  stroke="#000" stroke-width="0.32" stroke-linejoin="round">0.09</text>
<text x="246.60" y="707.70" font-size="15.6" font-weight="normal" font-style="normal" text-anchor="middle"  stroke="#000" stroke-width="0.32" stroke-linejoin="round">0.04 *</text>
<text x="337.40" y="707.70" font-size="15.6" font-weight="normal" font-style="normal" text-anchor="middle"  stroke="#000" stroke-width="0.32" stroke-linejoin="round">0.11</text>
<text x="428.00" y="707.70" font-size="15.6" font-weight="normal" font-style="normal" text-anchor="middle"  stroke="#000" stroke-width="0.32" stroke-linejoin="round">0.23</text>
<text x="521.00" y="707.70" font-size="15.6" font-weight="normal" font-style="normal" text-anchor="middle"  stroke="#000" stroke-width="0.32" stroke-linejoin="round">0.36</text>
<text x="78.80" y="707.70" font-size="15.75" font-weight="bold" font-style="italic" text-anchor="middle"  stroke="#000" stroke-width="0.45" stroke-linejoin="round">p</text>
<text x="37.20" y="612.80" font-size="15.75" font-weight="bold" font-style="normal" text-anchor="end"  stroke="#000" stroke-width="0.45" stroke-linejoin="round">Post</text>
<text x="37.20" y="631.20" font-size="15.75" font-weight="bold" font-style="normal" text-anchor="end"  stroke="#000" stroke-width="0.45" stroke-linejoin="round">4-w</text>
<text x="37.20" y="677.80" font-size="15.75" font-weight="bold" font-style="normal" text-anchor="end"  stroke="#000" stroke-width="0.45" stroke-linejoin="round">Post</text>
<text x="37.20" y="696.30" font-size="15.75" font-weight="bold" font-style="normal" text-anchor="end"  stroke="#000" stroke-width="0.45" stroke-linejoin="round">8-w</text>
<text x="152.70" y="1004.20" font-size="15.6" font-weight="normal" font-style="normal" text-anchor="middle"  stroke="#000" stroke-width="0.32" stroke-linejoin="round">-9.04</text>
<text x="246.60" y="1004.20" font-size="15.6" font-weight="normal" font-style="normal" text-anchor="middle"  stroke="#000" stroke-width="0.32" stroke-linejoin="round">- 0.09</text>
<text x="337.40" y="1004.20" font-size="15.6" font-weight="normal" font-style="normal" text-anchor="middle"  stroke="#000" stroke-width="0.32" stroke-linejoin="round">-10.22</text>
<text x="428.00" y="1004.20" font-size="15.6" font-weight="normal" font-style="normal" text-anchor="middle"  stroke="#000" stroke-width="0.32" stroke-linejoin="round">-11.75</text>
<text x="521.00" y="1004.20" font-size="15.6" font-weight="normal" font-style="normal" text-anchor="middle"  stroke="#000" stroke-width="0.32" stroke-linejoin="round">-23.43</text>
<text x="89.60" y="1004.20" font-size="15.75" font-weight="bold" font-style="normal" text-anchor="end" stroke="#000" stroke-width="0.7">%</text>
<path fill-rule="evenodd" d="M66.00 1003.90 L70.60 993.20 L71.50 993.20 L75.40 1003.90 Z M67.45 1002.95 L73.30 1002.95 L70.20 996.20 Z" fill="#000"/>
<text x="152.70" y="1022.70" font-size="15.6" font-weight="normal" font-style="normal" text-anchor="middle"  stroke="#000" stroke-width="0.32" stroke-linejoin="round">0.36</text>
<text x="246.60" y="1022.70" font-size="15.6" font-weight="normal" font-style="normal" text-anchor="middle"  stroke="#000" stroke-width="0.32" stroke-linejoin="round">0.01</text>
<text x="337.40" y="1022.70" font-size="15.6" font-weight="normal" font-style="normal" text-anchor="middle"  stroke="#000" stroke-width="0.32" stroke-linejoin="round">0.31</text>
<text x="428.00" y="1022.70" font-size="15.6" font-weight="normal" font-style="normal" text-anchor="middle"  stroke="#000" stroke-width="0.32" stroke-linejoin="round">0.39</text>
<text x="521.00" y="1022.70" font-size="15.6" font-weight="normal" font-style="normal" text-anchor="middle"  stroke="#000" stroke-width="0.32" stroke-linejoin="round">1.40</text>
<text x="78.80" y="1022.70" font-size="15.75" font-weight="bold" font-style="italic" text-anchor="middle"  stroke="#000" stroke-width="0.45" stroke-linejoin="round">d</text>
<text x="152.70" y="1041.30" font-size="15.6" font-weight="normal" font-style="normal" text-anchor="middle"  stroke="#000" stroke-width="0.32" stroke-linejoin="round">0.23</text>
<text x="246.60" y="1041.30" font-size="15.6" font-weight="normal" font-style="normal" text-anchor="middle"  stroke="#000" stroke-width="0.32" stroke-linejoin="round">0.95</text>
<text x="337.40" y="1041.30" font-size="15.6" font-weight="normal" font-style="normal" text-anchor="middle"  stroke="#000" stroke-width="0.32" stroke-linejoin="round">0.24</text>
<text x="428.00" y="1041.30" font-size="15.6" font-weight="normal" font-style="normal" text-anchor="middle"  stroke="#000" stroke-width="0.32" stroke-linejoin="round">0.13</text>
<text x="521.00" y="1041.30" font-size="15.6" font-weight="normal" font-style="normal" text-anchor="middle"  stroke="#000" stroke-width="0.32" stroke-linejoin="round">0.02 *</text>
<text x="78.80" y="1041.30" font-size="15.75" font-weight="bold" font-style="italic" text-anchor="middle"  stroke="#000" stroke-width="0.45" stroke-linejoin="round">p</text>
<text x="152.70" y="1073.80" font-size="15.6" font-weight="normal" font-style="normal" text-anchor="middle"  stroke="#000" stroke-width="0.32" stroke-linejoin="round">-10.63</text>
<text x="246.60" y="1073.80" font-size="15.6" font-weight="normal" font-style="normal" text-anchor="middle"  stroke="#000" stroke-width="0.32" stroke-linejoin="round">26.92</text>
<text x="337.40" y="1073.80" font-size="15.6" font-weight="normal" font-style="normal" text-anchor="middle"  stroke="#000" stroke-width="0.32" stroke-linejoin="round">1.28</text>
<text x="428.00" y="1073.80" font-size="15.6" font-weight="normal" font-style="normal" text-anchor="middle"  stroke="#000" stroke-width="0.32" stroke-linejoin="round">-15.07</text>
<text x="521.00" y="1073.80" font-size="15.6" font-weight="normal" font-style="normal" text-anchor="middle"  stroke="#000" stroke-width="0.32" stroke-linejoin="round">-26.54</text>
<text x="89.60" y="1073.80" font-size="15.75" font-weight="bold" font-style="normal" text-anchor="end" stroke="#000" stroke-width="0.7">%</text>
<path fill-rule="evenodd" d="M66.00 1073.50 L70.60 1062.80 L71.50 1062.80 L75.40 1073.50 Z M67.45 1072.55 L73.30 1072.55 L70.20 1065.80 Z" fill="#000"/>
<text x="152.70" y="1092.30" font-size="15.6" font-weight="normal" font-style="normal" text-anchor="middle"  stroke="#000" stroke-width="0.32" stroke-linejoin="round">0.44</text>
<text x="246.60" y="1092.30" font-size="15.6" font-weight="normal" font-style="normal" text-anchor="middle"  stroke="#000" stroke-width="0.32" stroke-linejoin="round">0.63</text>
<text x="337.40" y="1092.30" font-size="15.6" font-weight="normal" font-style="normal" text-anchor="middle"  stroke="#000" stroke-width="0.32" stroke-linejoin="round">0.03</text>
<text x="428.00" y="1092.30" font-size="15.6" font-weight="normal" font-style="normal" text-anchor="middle"  stroke="#000" stroke-width="0.32" stroke-linejoin="round">0.63</text>
<text x="521.00" y="1092.30" font-size="15.6" font-weight="normal" font-style="normal" text-anchor="middle"  stroke="#000" stroke-width="0.32" stroke-linejoin="round">1.51</text>
<text x="78.80" y="1092.30" font-size="15.75" font-weight="bold" font-style="italic" text-anchor="middle"  stroke="#000" stroke-width="0.45" stroke-linejoin="round">d</text>
<text x="152.70" y="1110.90" font-size="15.6" font-weight="normal" font-style="normal" text-anchor="middle"  stroke="#000" stroke-width="0.32" stroke-linejoin="round">0.25</text>
<text x="246.60" y="1110.90" font-size="15.6" font-weight="normal" font-style="normal" text-anchor="middle"  stroke="#000" stroke-width="0.32" stroke-linejoin="round">0.02 *</text>
<text x="337.40" y="1110.90" font-size="15.6" font-weight="normal" font-style="normal" text-anchor="middle"  stroke="#000" stroke-width="0.32" stroke-linejoin="round">0.62</text>
<text x="428.00" y="1110.90" font-size="15.6" font-weight="normal" font-style="normal" text-anchor="middle"  stroke="#000" stroke-width="0.32" stroke-linejoin="round">0.18</text>
<text x="521.00" y="1110.90" font-size="15.6" font-weight="normal" font-style="normal" text-anchor="middle"  stroke="#000" stroke-width="0.32" stroke-linejoin="round">0.02 *</text>
<text x="78.80" y="1110.90" font-size="15.75" font-weight="bold" font-style="italic" text-anchor="middle"  stroke="#000" stroke-width="0.45" stroke-linejoin="round">p</text>
<text x="37.20" y="1015.50" font-size="15.75" font-weight="bold" font-style="normal" text-anchor="end"  stroke="#000" stroke-width="0.45" stroke-linejoin="round">Post</text>
<text x="37.20" y="1033.90" font-size="15.75" font-weight="bold" font-style="normal" text-anchor="end"  stroke="#000" stroke-width="0.45" stroke-linejoin="round">4-w</text>
<text x="37.20" y="1080.50" font-size="15.75" font-weight="bold" font-style="normal" text-anchor="end"  stroke="#000" stroke-width="0.45" stroke-linejoin="round">Post</text>
<text x="37.20" y="1099.00" font-size="15.75" font-weight="bold" font-style="normal" text-anchor="end"  stroke="#000" stroke-width="0.45" stroke-linejoin="round">8-w</text>
</svg>
</body></html>
